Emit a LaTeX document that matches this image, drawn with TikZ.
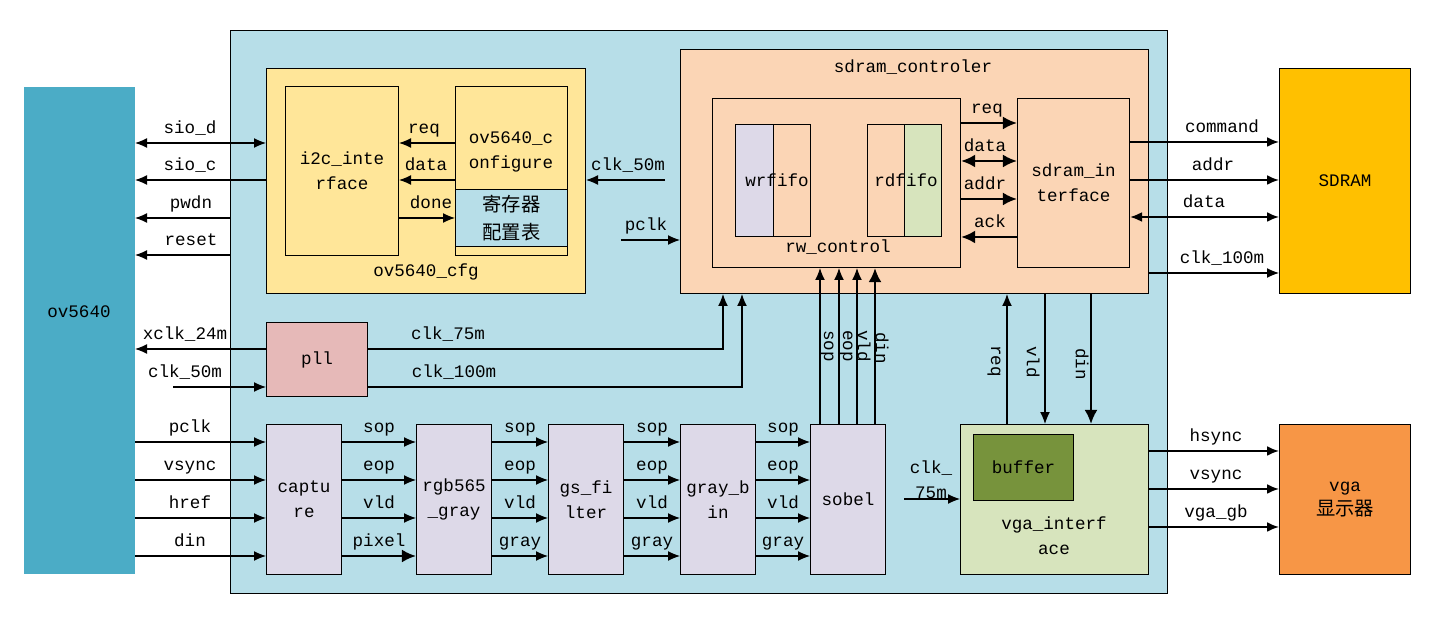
\documentclass[tikz,border=0pt]{standalone}
\usepackage{fontspec}
\setmainfont{Liberation Mono}
\newfontfamily\cjk{Noto Sans CJK SC}
\usetikzlibrary{arrows.meta}
\definecolor{camblue}{HTML}{4BACC6}
\definecolor{fpgabg}{HTML}{B7DEE8}
\definecolor{cfgyel}{HTML}{FFE699}
\definecolor{sdpeach}{HTML}{FBD5B5}
\definecolor{stlav}{HTML}{DDD9E8}
\definecolor{vgreen}{HTML}{D7E4BD}
\definecolor{bufgreen}{HTML}{77933C}
\definecolor{pllpink}{HTML}{E6B9B8}
\definecolor{sdramor}{HTML}{FFC000}
\definecolor{vgaor}{HTML}{F79646}
\begin{document}
\begin{tikzpicture}[x=0.02cm,y=-0.02cm,font=\fontsize{10}{14.2}\selectfont,
  blk/.style 2 args={draw,line width=0.6pt,inner sep=0pt,anchor=north west,align=center,
    minimum width=#1*0.02cm,minimum height=#2*0.02cm},
  tag/.style={anchor=base,yshift=5.5pt,inner sep=0pt},
  vtag/.style={rotate=-90,inner sep=0pt},
  sigtip/.tip={Latex[length=6.8pt,width=5.6pt]},
  bustip/.tip={Latex[length=8pt,width=7.4pt]},
  sig/.style={line width=0.6pt,-sigtip},
  dsig/.style={line width=0.6pt,sigtip-sigtip},
  wsig/.style={line width=1pt,-sigtip},
  bus/.style={line width=1.4pt,-bustip},
  dbus/.style={line width=1.4pt,bustip-bustip}]
\useasboundingbox (0,0) rectangle (1441,624);
% blocks
\node[blk={111}{487},fill=camblue,draw=none] (cam) at (23,86) {};
\node (camt) at (79,312) {ov5640};
\node[blk={937}{563},fill=fpgabg] (fpga) at (230,30) {};
\node[blk={319}{225},fill=cfgyel] (cfg) at (266,68) {};
\node (cfgt) at (426,272) {ov5640\_cfg};
\node[blk={113}{169},fill=cfgyel] (i2c) at (285,86) {i2c\_inte\\rface};
\node[blk={112}{169},fill=cfgyel] (conf) at (455,86) {};
\node[align=center] (conft) at (511,152) {ov5640\_c\\onfigure};
\node[blk={112}{57},fill=fpgabg,font=\cjk\fontsize{11}{15.5}\selectfont] (reg) at (455,189) {寄存器\\配置表};
\node[blk={101}{74},fill=pllpink] (pll) at (266,322) {pll};
\node[blk={468}{244},fill=sdpeach] (sdc) at (680,49) {};
\node (sdct) at (913,67) {sdram\_controler};
\node[blk={248}{169},fill=sdpeach] (rw) at (712,98) {};
\node (rwt) at (838,247) {rw\_control};
\node[blk={38}{112},fill=stlav] (wrl) at (735,124) {};
\node[blk={37}{112},fill=sdpeach] (wrr) at (773,124) {};
\node (wrt) at (777,180) {wrfifo};
\node[blk={37}{112},fill=sdpeach] (rdl) at (867,124) {};
\node[blk={37}{112},fill=vgreen] (rdr) at (904,124) {};
\node (rdt) at (906,180) {rdfifo};
\node[blk={112}{169},fill=sdpeach] (sif) at (1017,98) {sdram\_in\\terface};
\node[blk={75}{150},fill=stlav] (cap) at (266,424) {captu\\re};
\node[blk={75}{150},fill=stlav] (rgb) at (416,424) {rgb565\\\_gray};
\node[blk={75}{150},fill=stlav] (gsf) at (548,424) {gs\_fi\\lter};
\node[blk={75}{150},fill=stlav] (gbin) at (680,424) {gray\_b\\in};
\node[blk={75}{150},fill=stlav] (sob) at (810,424) {sobel};
\node[blk={188}{150},fill=vgreen] (vif) at (960,424) {};
\node[align=center] (vift) at (1054,536) {vga\_interf\\ace};
\node[blk={100}{66},fill=bufgreen] (buf) at (973,434) {buffer};
\node[blk={131}{225},fill=sdramor] (sdram) at (1279,68) {SDRAM};
\node[blk={131}{150},fill=vgaor] (vga) at (1279,424) {vga\\{\cjk\fontsize{11}{14.2}\selectfont 显示器}};
% ov5640 <-> cfg
\draw[dsig] (cam.east|-0,143) -- (cfg.west|-0,143);
\draw[sig] (cfg.west|-0,180) -- (cam.east|-0,180);
\draw[sig] (fpga.west|-0,218) -- (cam.east|-0,218);
\draw[sig] (fpga.west|-0,255) -- (cam.east|-0,255);
\node[tag] (siod) at (190,143) {sio\_d};
\node[tag] (sioc) at (190,180) {sio\_c};
\node[tag] (pwdn) at (191,218) {pwdn};
\node[tag] (rst) at (191,255) {reset};
\draw[sig] (conf.west|-0,143) -- (i2c.east|-0,143);
\draw[sig] (conf.west|-0,180) -- (i2c.east|-0,180);
\draw[sig] (i2c.east|-0,218) -- (reg.west|-0,218);
\node[tag] (creq) at (424,143) {req};
\node[tag] (cdata) at (426,180) {data};
\node[tag] (cdone) at (431,218) {done};
\coordinate (c50) at (665,180);
\draw[sig] (c50) -- (cfg.east|-c50);
\node[tag] (c50t) at (628,180) {clk\_50m};
\coordinate (pck) at (621,240);
\draw[sig] (pck) -- (sdc.west|-pck);
\node[tag] (pckt) at (646,240) {pclk};
% pll
\coordinate (pin) at (173,387);
\draw[sig] (pll.west|-0,349) -- (cam.east|-0,349);
\draw[sig] (pin) -- (pll.west|-pin);
\draw[sig] (pll.east|-0,349) -| (sdc.south-|723,0);
\draw[sig] (pll.east|-0,387) -| (sdc.south-|742,0);
\node[tag] (x24) at (185,349) {xclk\_24m};
\node[tag] (p50) at (185,387) {clk\_50m};
\node[tag] (p75) at (448,349) {clk\_75m};
\node[tag] (p100) at (454,387) {clk\_100m};
% inside sdram_controler
\draw[bus] (rw.east|-0,123) -- (sif.west|-0,123);
\draw[dbus] (rw.east|-0,161) -- (sif.west|-0,161);
\draw[bus] (rw.east|-0,199) -- (sif.west|-0,199);
\draw[bus] (sif.west|-0,237) -- (rw.east|-0,237);
\node[tag] (sreq) at (987,123) {req};
\node[tag] (sdata) at (985,161) {data};
\node[tag] (saddr) at (985,199) {addr};
\node[tag] (sack) at (990,237) {ack};
% sdram
\draw[wsig] (sif.east|-0,142) -- (sdram.west|-0,142);
\draw[wsig] (sif.east|-0,180) -- (sdram.west|-0,180);
\draw[line width=1pt,sigtip-sigtip] (sif.east|-0,217) -- (sdram.west|-0,217);
\draw[sig] (sdc.east|-0,273) -- (sdram.west|-0,273);
\node[tag] (cmd) at (1222,142) {command};
\node[tag] (raddr) at (1213,180) {addr};
\node[tag] (rdata) at (1204,217) {data};
\node[tag] (r100) at (1222,273) {clk\_100m};
% pipeline
\foreach \y/\t in {442/pclk,480/vsync,518/href,556/din}{
  \draw[sig] (cam.east|-0,\y) -- (cap.west|-0,\y);
  \node[tag] (in-\t) at (190,\y) {\t};
}
\foreach \a/\b in {cap/rgb,rgb/gsf,gsf/gbin,gbin/sob}
  \foreach \y/\t in {442/sop,480/eop,518/vld}
    \draw[sig] (\a.east|-0,\y) -- node[tag] (\a-\t) {\t} (\b.west|-0,\y);
\foreach \a/\b in {rgb/gsf,gsf/gbin,gbin/sob}
  \draw[sig] (\a.east|-0,556) -- node[tag] (\a-gray) {gray} (\b.west|-0,556);
\draw[bus] (cap.east|-0,556) -- node[tag] (cap-pixel) {pixel} (rgb.west|-0,556);
\foreach \x/\t in {820/sop,839/eop,857/vld}{
  \draw[sig] (sob.north-|\x,0) -- (rw.south-|\x,0);
  \node[vtag] (up-\t) at (\x+7,346) {\t};
}
\draw[bus] (sob.north-|875,0) -- (rw.south-|875,0);
\node[vtag] (up-din) at (882,348) {din};
% vga
\draw[sig] (vif.north-|1007,0) -- (sdc.south-|1007,0);
\draw[sig] (sdc.south-|1045,0) -- (vif.north-|1045,0);
\draw[bus] (sdc.south-|1091,0) -- (vif.north-|1091,0);
\node[vtag] (vreq) at (994,361) {req};
\node[vtag] (vvld) at (1033,362) {vld};
\node[vtag] (vdin) at (1082,364) {din};
\coordinate (v75) at (904,499);
\draw[sig] (v75) -- (vif.west|-v75);
\node[align=center,inner sep=0pt] (v75t) at (931,480) {clk\_\\75m};
\draw[wsig] (vif.east|-0,451) -- (vga.west|-0,451);
\draw[wsig] (vif.east|-0,489) -- (vga.west|-0,489);
\draw[wsig] (vif.east|-0,527) -- (vga.west|-0,527);
\node[tag] (hs) at (1216,451) {hsync};
\node[tag] (vs) at (1216,489) {vsync};
\node[tag] (vgb) at (1216,527) {vga\_gb};
\end{tikzpicture}
\end{document}
